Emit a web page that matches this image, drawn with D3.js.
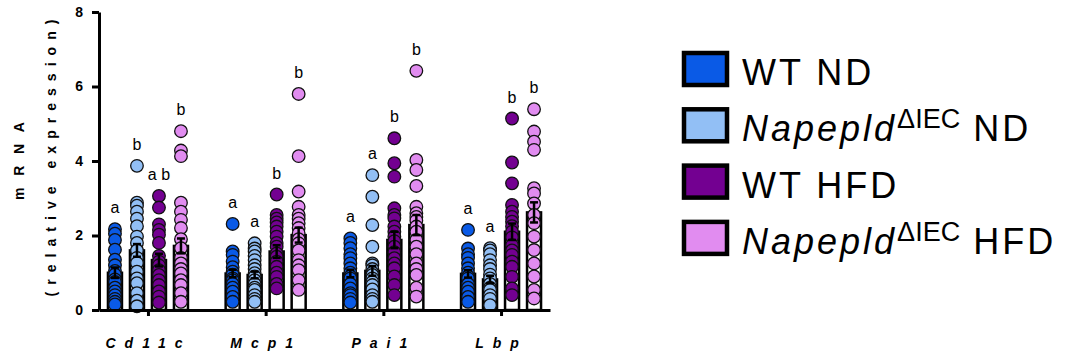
<!DOCTYPE html>
<html>
<head>
<meta charset="utf-8">
<script src="https://cdn.jsdelivr.net/npm/d3@7"></script>
<style>
  body { margin: 0; background: #fff; }
  svg { display: block; font-family: Arial, "Liberation Sans", sans-serif; }
</style>
</head>
<body>
<svg id="chart" width="1067" height="356"></svg>
<script>
// genes on the x axis and the four groups
const categories = ["Cd11c", "Mcp1", "Pai1", "Lbp"];
const series = ["WT ND", "Napepld ND", "WT HFD", "Napepld HFD"];
const seriesColors = ["#0a5ae6", "#92bff5", "#730091", "#e18cf0"];
const yTicks = [0, 2, 4, 6, 8];

// individual animals, one list per gene
const wtND = [
  [2.17, 2.05, 1.88, 1.62, 1.35, 1.2, 1.05, 0.95, 0.82, 0.75, 0.6, 0.5, 0.4, 0.3, 0.22, 0.15],
  [2.31, 1.57, 1.48, 1.3, 1.15, 1.03, 0.95, 0.85, 0.8, 0.7, 0.6, 0.49, 0.35, 0.22],
  [1.92, 1.8, 1.66, 1.5, 1.39, 1.25, 1.12, 1.0, 0.9, 0.85, 0.7, 0.58, 0.45, 0.4, 0.3, 0.2],
  [2.15, 1.65, 1.5, 1.4, 1.25, 1.12, 1.0, 0.9, 0.85, 0.7, 0.6, 0.49, 0.35, 0.22]
];
const napepldND = [
  [3.87, 2.88, 2.8, 2.64, 2.45, 2.25, 1.97, 1.8, 1.6, 1.4, 1.26, 1.03, 0.85, 0.72, 0.45, 0.25, 0.1],
  [1.79, 1.65, 1.57, 1.45, 1.34, 1.2, 1.1, 0.99, 0.9, 0.8, 0.7, 0.6, 0.54, 0.4, 0.3, 0.22],
  [3.62, 3.04, 2.28, 1.7, 1.25, 1.2, 1.1, 1.0, 0.94, 0.85, 0.75, 0.67, 0.55, 0.4, 0.3, 0.22],
  [1.66, 1.6, 1.5, 1.34, 1.2, 1.1, 0.95, 0.85, 0.7, 0.6, 0.54, 0.4, 0.3, 0.13]
];
const wtHFD = [
  [3.06, 2.75, 2.3, 2.15, 2.02, 1.8, 1.45, 1.3, 1.2, 1.07, 0.94, 0.8, 0.67, 0.5, 0.36, 0.2],
  [3.1, 2.55, 2.45, 2.35, 2.24, 2.1, 1.97, 1.8, 1.7, 1.52, 1.43, 1.3, 1.16, 1.0, 0.89, 0.7, 0.58],
  [4.61, 3.94, 3.58, 2.73, 2.55, 2.46, 2.24, 2.1, 1.97, 1.85, 1.7, 1.55, 1.39, 1.25, 1.12, 0.9, 0.67, 0.4],
  [5.14, 3.96, 3.4, 2.82, 2.64, 2.5, 2.37, 2.25, 2.1, 1.95, 1.74, 1.6, 1.48, 1.3, 1.16, 0.89, 0.58, 0.4]
];
const napepldHFD = [
  [4.8, 4.28, 4.13, 2.88, 2.64, 2.42, 2.2, 1.9, 1.66, 1.4, 1.25, 1.1, 0.98, 0.8, 0.67, 0.45, 0.22],
  [5.8, 4.13, 3.18, 2.77, 2.55, 2.45, 2.33, 2.2, 2.06, 1.9, 1.79, 1.6, 1.34, 1.2, 1.07, 0.8, 0.54],
  [6.42, 4.03, 3.76, 3.33, 2.77, 2.6, 2.5, 2.4, 2.24, 2.1, 1.88, 1.7, 1.5, 1.25, 1.1, 0.94, 0.6, 0.36],
  [5.39, 4.79, 4.52, 4.3, 3.27, 3.13, 2.86, 2.55, 2.33, 1.97, 1.61, 1.25, 0.9, 0.54, 0.31]
];

// bar heights (mean) and error bars (SEM), per gene
const meanWtND = [1.0, 0.98, 0.98, 0.97];
const meanNapepldND = [1.6, 0.94, 1.05, 0.82];
const meanWtHFD = [1.34, 1.57, 1.88, 2.1];
const meanNapepldHFD = [1.72, 2.01, 2.28, 2.62];
const semWtND = [0.14, 0.1, 0.1, 0.1];
const semNapepldND = [0.17, 0.09, 0.13, 0.1];
const semWtHFD = [0.17, 0.17, 0.22, 0.22];
const semNapepldHFD = [0.2, 0.2, 0.27, 0.27];

// significance letters
const letters = [
  ["a", "b", "a b", "b"],
  ["a", "a", "b", "b"],
  ["a", "a", "b", "b"],
  ["a", "a", "b", "b"]
];

const points = [wtND, napepldND, wtHFD, napepldHFD];
const means = [meanWtND, meanNapepldND, meanWtHFD, meanNapepldHFD];
const sems = [semWtND, semNapepldND, semWtHFD, semNapepldHFD];

const svg = d3.select("#chart");
const plotLeft = 99, plotRight = 550, plotTop = 12, plotBottom = 310;

const x = d3.scalePoint().domain(categories).range([plotLeft, plotRight]).padding(0.416);
const sub = d3.scaleBand().domain(series).range([-44, 44]);
const y = d3.scaleLinear().domain([0, 8]).range([plotBottom, plotTop]);

const barW = 14;
const cx = (ci, si) => x(categories[ci]) + sub(series[si]) + sub.bandwidth() / 2;

// rows for bars/points
const rows = [];
categories.forEach((c, ci) => {
  series.forEach((s, si) => {
    rows.push({ ci, si, mean: means[si][ci], sem: sems[si][ci], vals: points[si][ci], letter: letters[ci][si] });
  });
});

const plot = svg.append("g");

// bars
plot.selectAll("rect.bar")
  .data(rows)
  .enter()
  .append("rect")
  .attr("class", "bar")
  .attr("x", d => cx(d.ci, d.si) - barW / 2)
  .attr("y", d => y(d.mean))
  .attr("width", barW)
  .attr("height", d => y(0) - y(d.mean))
  .attr("fill", "#fff")
  .attr("stroke", "#000")
  .attr("stroke-width", 2.5);

// dots
rows.forEach(d => {
  plot.selectAll(null)
    .data(d.vals)
    .enter()
    .append("circle")
    .attr("cx", cx(d.ci, d.si))
    .attr("cy", v => y(v))
    .attr("r", 6.3)
    .attr("fill", seriesColors[d.si])
    .attr("stroke", "#111")
    .attr("stroke-width", 1.3);
});

// error bars
const err = plot.selectAll("g.err")
  .data(rows)
  .enter()
  .append("g")
  .attr("stroke", "#000")
  .attr("stroke-width", 2.5);
err.append("line")
  .attr("x1", d => cx(d.ci, d.si)).attr("x2", d => cx(d.ci, d.si))
  .attr("y1", d => y(d.mean - d.sem)).attr("y2", d => y(d.mean + d.sem));
err.append("line")
  .attr("x1", d => cx(d.ci, d.si) - 4).attr("x2", d => cx(d.ci, d.si) + 4)
  .attr("y1", d => y(d.mean + d.sem)).attr("y2", d => y(d.mean + d.sem));
err.append("line")
  .attr("x1", d => cx(d.ci, d.si) - 4).attr("x2", d => cx(d.ci, d.si) + 4)
  .attr("y1", d => y(d.mean - d.sem)).attr("y2", d => y(d.mean - d.sem));

// letters above the highest point
plot.selectAll("text.letter")
  .data(rows)
  .enter()
  .append("text")
  .attr("x", d => cx(d.ci, d.si))
  .attr("y", d => y(d3.max(d.vals)) - 16)
  .attr("text-anchor", "middle")
  .attr("font-size", 16)
  .text(d => d.letter);

// axes
const yAxis = svg.append("g")
  .attr("transform", "translate(" + plotLeft + ",0)")
  .call(d3.axisLeft(y).tickValues(yTicks).tickSize(7).tickSizeOuter(0).tickPadding(9));
yAxis.select(".domain").attr("stroke-width", 3);
yAxis.selectAll(".tick line").attr("stroke-width", 3);
yAxis.selectAll(".tick text")
  .attr("font-size", 14).attr("font-weight", "bold")
  .attr("font-family", "Arial, 'Liberation Sans', sans-serif");

const xAxis = svg.append("g")
  .attr("transform", "translate(0," + plotBottom + ")")
  .call(d3.axisBottom(x).tickSize(6).tickSizeOuter(0).tickPadding(22));
xAxis.select(".domain").attr("stroke-width", 3);
xAxis.selectAll(".tick line").attr("stroke-width", 3);
xAxis.selectAll(".tick text")
  .attr("font-size", 14).attr("font-weight", "bold").attr("font-style", "italic")
  .attr("font-family", "Arial, 'Liberation Sans', sans-serif")
  .style("letter-spacing", "9px");

// y title
svg.append("text")
  .attr("transform", "translate(24,161) rotate(-90)")
  .attr("text-anchor", "middle")
  .attr("font-size", 14).attr("font-weight", "bold")
  .attr("textLength", 78).attr("lengthAdjust", "spacing")
  .text("mRNA");
svg.append("text")
  .attr("transform", "translate(56,158) rotate(-90)")
  .attr("text-anchor", "middle")
  .attr("font-size", 14).attr("font-weight", "bold")
  .attr("textLength", 277).attr("lengthAdjust", "spacing")
  .text("(relative expression)");

// legend
const legend = svg.append("g").attr("transform", "translate(682,51)");
series.forEach((s, i) => {
  const row = legend.append("g").attr("transform", "translate(0," + (i * 56.3) + ")");
  row.append("rect")
    .attr("x", 2).attr("y", 2).attr("width", 43).attr("height", 32)
    .attr("fill", seriesColors[i]).attr("stroke", "#000").attr("stroke-width", 4.5);
  const t = row.append("text")
    .attr("x", 60).attr("y", 34)
    .attr("font-size", 36)
    .style("letter-spacing", "3px");
  if (s.startsWith("Napepld")) {
    t.append("tspan").attr("font-style", "italic").text("Napepld");
    t.append("tspan").attr("font-size", 27).attr("dy", -13).style("letter-spacing", "0px").text("\u0394IEC");
    t.append("tspan").attr("dy", 13).text(" " + s.replace("Napepld ", ""));
  } else {
    t.text(s);
  }
});
</script>
</body>
</html>
